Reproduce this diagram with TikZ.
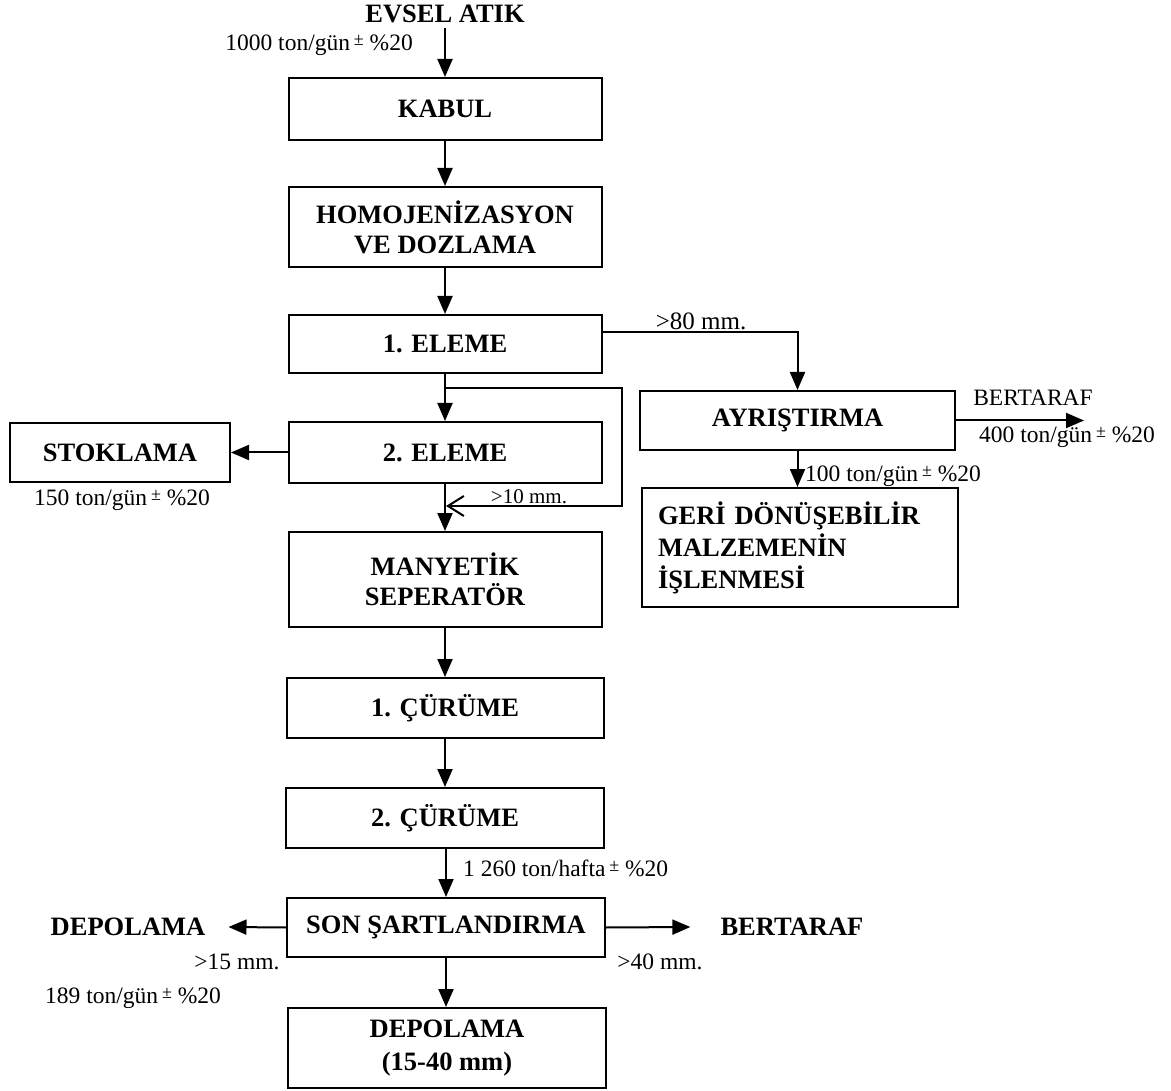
\documentclass[tikz,border=0pt]{standalone}
\usepackage{fontspec}
\setmainfont{Liberation Serif}
\usetikzlibrary{arrows.meta}
\newcommand\plmn{\raisebox{0.45ex}{\fontsize{18}{18}\selectfont ±}}
\begin{document}
\begin{tikzpicture}[x=1pt,y=1pt,
  box/.style={draw, line width=2pt, minimum width=313pt, inner sep=0pt,
    font=\fontsize{26.5}{30}\selectfont\bfseries, align=center},
  lbl/.style={font=\fontsize{23.5}{26}\selectfont, inner sep=0pt},
  blbl/.style={font=\fontsize{26.5}{30}\selectfont\bfseries, inner sep=0pt},
  arr/.style={line width=2pt, -{Triangle[length=18pt,width=15pt]}},
  ln/.style={line width=2pt}]
\useasboundingbox (0,0) rectangle (1171,-1091);

% main column
\node[box, minimum height=62pt] (kabul) at (445,-109) {KABUL};
\node[box, minimum height=80pt] (homo) at (445,-227) {HOMOJENİZASYON\\VE DOZLAMA};
\node[box, minimum height=58pt] (el1) at (445,-344) {1. ELEME};
\node[box, minimum height=61pt] (el2) at (445,-452.5) {2. ELEME};
\node[box, minimum height=95pt] (many) at (445,-579.5) {MANYETİK\\SEPERATÖR};
\node[box, minimum height=60pt, minimum width=317pt] (cur1) at (445,-708) {1. ÇÜRÜME};
\node[box, minimum height=60pt, minimum width=318pt] (cur2) at (445,-818) {2. ÇÜRÜME};
\node[box, minimum height=59pt, minimum width=318pt] (son) at (446,-927.5) {SON ŞARTLANDIRMA};
\node[box, minimum height=80pt, minimum width=318pt, font=\fontsize{26.5}{33}\selectfont\bfseries] (depo) at (447,-1048) {DEPOLAMA\\(15-40 mm)};

% side boxes
\node[box, minimum height=59pt, minimum width=220pt] (stok) at (120,-452.5) {STOKLAMA};
\node[box, minimum height=59pt, minimum width=315pt] (ayr) at (797.5,-420.5) {AYRIŞTIRMA};
\node[box, minimum height=119pt, text width=284pt, inner xsep=16pt, align=left,
  font=\fontsize{26.5}{32}\selectfont\bfseries] (geri) at (800,-547.5)
  {GERİ DÖNÜŞEBİLİR\\MALZEMENİN\\İŞLENMESİ};

% input
\node[blbl] (evsel) at (445,-14) {EVSEL ATIK};
\coordinate (evs) at (445,-28);
\draw[arr] (evs) -- (kabul.north);
\node[lbl, anchor=east] (l1000) at (413,-45) {1000 ton/gün\,\plmn\ \%20};

% vertical flow
\draw[arr] (kabul.south) -- (homo.north);
\draw[arr] (homo.south) -- (el1.north);
\draw[arr] (el1.south) -- (el2.north);
\draw[arr] (el2.south) -- (many.north);
\draw[arr] (many.south) -- (cur1.north);
\draw[arr] (cur1.south) -- (cur2.north);
\draw[arr] (cur2.south) -- (son.north |- cur2.south) -- (son.north);
\draw[arr] (son.south) -- (son.south |- depo.north);

% >80 mm branch
\coordinate (e1) at (el1.east |- 0,-332);
\draw[arr] (e1) -| (ayr.north);
\node[lbl, font=\fontsize{25}{28}\selectfont, anchor=base] (l80) at (701,-330) {>80 mm.};

% >10 mm loop
\coordinate (b1) at (445,-388);
\coordinate (c2) at (622,-506);
\coordinate (b2) at (446,-506);
\draw[ln, -{Straight Barb[length=16pt,width=20pt,line width=2pt]}] (b1) -| (c2) -- (b2);
\node[lbl, font=\fontsize{21}{24}\selectfont, anchor=base] (l10) at (529,-503) {>10 mm.};

% stoklama
\draw[arr] (el2.west) -- (stok.east);
\node[lbl] (l150) at (122,-500) {150 ton/gün\,\plmn\ \%20};

% ayristirma outputs
\coordinate (bt) at (1084,-420.5);
\draw[arr] (ayr.east) -- (bt);
\node[lbl] (lbert1) at (1033,-398) {BERTARAF};
\node[lbl] (l400) at (1067,-437) {400 ton/gün\,\plmn\ \%20};
\draw[arr] (ayr.south) -- (ayr.south |- geri.north);
\node[lbl, anchor=west] (l100) at (805,-476) {100 ton/gün\,\plmn\ \%20};

% son sartlandirma
\node[lbl, anchor=west] (l1260) at (463,-868) {1 260 ton/hafta\,\plmn\ \%20};
\node[blbl, inner xsep=23pt] (depl) at (128,-927) {DEPOLAMA};
\node[blbl, inner xsep=30pt] (bert2) at (792,-927) {BERTARAF};
\draw[arr] (son.west) -- (depl.east);
\draw[arr] (son.east) -- (bert2.west);
\node[lbl] (l15) at (237,-962) {>15 mm.};
\node[lbl] (l40) at (660,-962) {>40 mm.};
\node[lbl] (l189) at (133,-998) {189 ton/gün\,\plmn\ \%20};
\end{tikzpicture}
\end{document}
